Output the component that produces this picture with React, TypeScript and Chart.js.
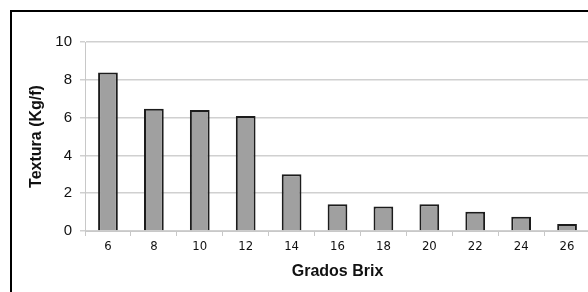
import React, { useEffect, useRef } from "react";
import { Chart, registerables } from "chart.js";

Chart.register(...registerables);

const categories = ["6", "8", "10", "12", "14", "16", "18", "20", "22", "24", "26"];
const textura = [8.38, 6.47, 6.4, 6.08, 3.0, 1.41, 1.29, 1.41, 1.02, 0.76, 0.37];
const yTicks = [0, 2, 4, 6, 8, 10];

const framePlugin = {
  id: "frame",
  afterDraw(chart: any) {
    const ctx = chart.ctx;
    ctx.save();
    ctx.strokeStyle = "#000";
    ctx.lineWidth = 2;
    ctx.beginPath();
    ctx.moveTo(11, 300);
    ctx.lineTo(11, 11);
    ctx.lineTo(620, 11);
    ctx.stroke();
    ctx.restore();
  },
};

export default function App() {
  const ref = useRef<HTMLCanvasElement>(null);
  useEffect(() => {
    const chart = new Chart(ref.current!, {
      type: "bar",
      data: {
        labels: categories,
        datasets: [
          {
            data: textura,
            backgroundColor: "#a0a0a0",
            borderColor: "#1c1c1c",
            borderWidth: 2,
            categoryPercentage: 1,
            barPercentage: 0.43,
          },
        ],
      },
      options: {
        animation: false,
        responsive: false,
        maintainAspectRatio: false,
        layout: { padding: { left: 0, top: 42, right: 10, bottom: 0 } },
        plugins: { legend: { display: false }, tooltip: { enabled: false } },
        scales: {
          x: {
            afterFit: (s: any) => { s.height = 61; },
            grid: { drawOnChartArea: false, drawTicks: true, tickLength: 5, color: "#c8c8c8", offset: true },
            border: { color: "#c8c8c8" },
            ticks: { color: "#111", font: { family: "DejaVu Sans Condensed", size: 13 }, padding: 3, maxRotation: 0 },
            title: {
              display: true,
              text: "Grados Brix",
              color: "#111",
              font: { family: "Liberation Sans", size: 16, weight: "bold" },
              padding: { top: 0, bottom: 11 },
            },
          },
          y: {
            min: 0,
            max: 10,
            afterFit: (s: any) => { s.width = 85; },
            afterBuildTicks: (s: any) => { s.ticks = yTicks.map((v) => ({ value: v })); },
            grid: { color: "#d0d0d0", tickLength: 5, lineWidth: 1.5 },
            border: { color: "#c8c8c8" },
            ticks: { color: "#111", font: { family: "Liberation Sans", size: 15 }, padding: 8 },
            title: {
              display: true,
              text: "Textura (Kg/f)",
              color: "#111",
              font: { family: "Liberation Sans", size: 16, weight: "bold" },
              padding: { top: 27, bottom: 0 },
            },
          },
        },
      },
      plugins: [framePlugin],
    } as any);
    return () => chart.destroy();
  }, []);
  return (
    <div style={{ position: "fixed", left: 0, top: 0, width: 588, height: 292, overflow: "hidden", background: "#fff" }}>
      <canvas ref={ref} width={600} height={292} style={{ display: "block", width: 600, height: 292 }} />
    </div>
  );
}
